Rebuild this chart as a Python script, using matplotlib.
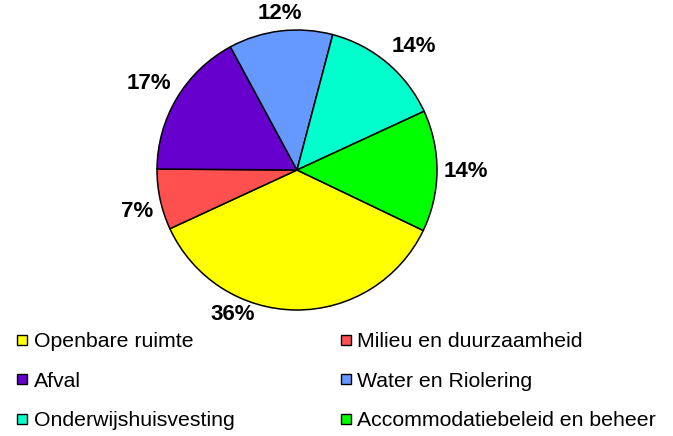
import numpy as np
import matplotlib.pyplot as plt
from matplotlib.lines import Line2D

# Data
categories = ['Openbare ruimte', 'Milieu en duurzaamheid', 'Afval',
              'Water en Riolering', 'Onderwijshuisvesting',
              'Accommodatiebeleid en beheer']
shares = [36, 7, 17, 12, 14, 14]
colors = ['#FFFF00', '#FF5050', '#6600CC', '#6699FF', '#00FFCC', '#00FF00']

plt.rcParams['font.family'] = ['Liberation Sans', 'DejaVu Sans']

W, H = 673, 436
fig = plt.figure(figsize=(W / 100, H / 100), dpi=100)

# Pie axes: centre (297,170) px, radius 140 px
cx, cy, r = 297, 170, 140
ax = fig.add_axes([(cx - r) / W, (H - cy - r) / H, 2 * r / W, 2 * r / H])

wedges, texts, autotexts = ax.pie(
    shares, colors=colors, startangle=-25.6, counterclock=False,
    autopct='%d%%', pctdistance=1.1,
    wedgeprops=dict(edgecolor='black', linewidth=1.1),
    textprops=dict(fontsize=16, fontweight='bold', color='black'))
ax.set_xlim(-1, 1)
ax.set_ylim(-1, 1)

# Excel-style labels: text box placed just outside the rim
for i, (w, t) in enumerate(zip(wedges, autotexts)):
    mid = 0.5 * (w.theta1 + w.theta2)
    dist = 1.05
    if i == 0:
        # the big label sits off to the left in the original
        mid -= 17
        dist = 1.0
    a = np.deg2rad(mid)
    c, s = np.cos(a), np.sin(a)
    t.set_position((dist * c, dist * s))
    t.set_ha('left' if c > 0.2 else 'right' if c < -0.2 else 'center')
    t.set_va('bottom' if s > 0.1 else 'top' if s < -0.1 else 'center')

# Legend: two columns, three rows, filled row by row
order = [0, 2, 4, 1, 3, 5]
handles = [Line2D([], [], marker='s', linestyle='none', markersize=7.5,
                  markerfacecolor=colors[i], markeredgecolor='black',
                  markeredgewidth=1.0) for i in order]
labels = [categories[i] for i in order]
fig.legend(handles, labels, ncol=2, mode='expand',
           loc='upper left', bbox_to_anchor=(16 / W, 0, 640 / W, 1 - 332 / H),
           frameon=False, fontsize=15.3, handlelength=0.6, handletextpad=0.25,
           labelspacing=0.97, borderaxespad=0, borderpad=0)

fig.savefig('out.png', dpi=100)
